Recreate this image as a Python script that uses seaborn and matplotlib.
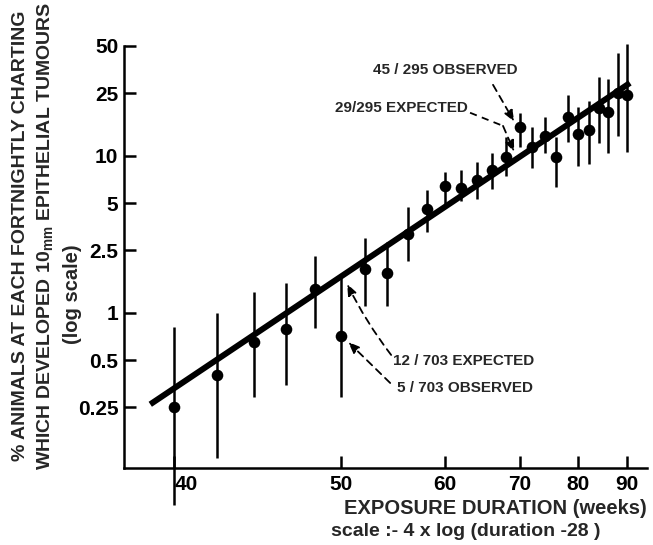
import numpy as np
import pandas as pd
import matplotlib
matplotlib.use("Agg")
import matplotlib.pyplot as plt
import seaborn as sns

# ---- data ----
weeks = [40, 42, 44, 46, 48, 50, 52, 54, 56, 58, 60, 62, 64,
         66, 68, 70, 72, 74, 76, 78, 80, 82, 84, 86, 88, 90]
pct = [0.25, 0.40, 0.65, 0.79, 1.42, 0.71, 1.91, 1.80, 3.19, 4.6, 6.44, 6.25, 7.03,
       8.15, 9.86, 15.25, 11.4, 13.4, 9.86, 17.7, 13.8, 14.6, 20.2, 19.1, 25.0, 24.5]
lower = [0.06, 0.119, 0.29, 0.35, 0.80, 0.29, 1.11, 1.11, 2.14, 3.28, 4.87, 5.17, 5.32,
         6.17, 7.46, 11.4, 8.4, 10.4, 6.35, 12.3, 8.6, 8.9, 12.1, 10.4, 13.4, 10.6]
upper = [0.81, 1.0, 1.36, 1.55, 2.3, 1.70, 3.0, 2.83, 4.73, 6.07, 7.9, 8.15, 9.16,
         10.4, 13.2, 18.8, 15.3, 17.7, 13.2, 24.5, 20.5, 22.4, 31.9, 30.9, 45.3, 51.7]
line_weeks = [39.0, 90.7]
line_pct = [0.262, 29.1]
x_ticks = [40, 50, 60, 70, 80, 90]
x_tick_labels = ["40", "50", "60", "70", "80", "90"]
y_ticks = [0.25, 0.5, 1, 2.5, 5, 10, 25, 50]
y_tick_labels = ["0.25", "0.5", "1", "2.5", "5", "10", "25", "50"]

df = pd.DataFrame({"weeks": weeks, "pct": pct, "lower": lower, "upper": upper})
line_df = pd.DataFrame({"weeks": line_weeks, "pct": line_pct})

sns.set_theme(style="ticks")
plt.rcParams["font.family"] = ["Liberation Sans", "DejaVu Sans"]
plt.rcParams["font.weight"] = "bold"
plt.rcParams["mathtext.default"] = "regular"

fig = plt.figure(figsize=(6.53, 5.45), dpi=100)
ax = fig.add_axes([0.1899, 0.1413, 0.8009, 0.7743])

# error bars
ax.vlines(df["weeks"], df["lower"], df["upper"], colors="black", lw=1.8,
          clip_on=False, zorder=2)
# fitted (expected) line
sns.lineplot(data=line_df, x="weeks", y="pct", color="black", lw=4.3,
             estimator=None, sort=False, ax=ax, zorder=3,
             solid_capstyle="butt")
# observed points
sns.scatterplot(data=df, x="weeks", y="pct", color="black", s=70,
                linewidth=0, ax=ax, zorder=4, clip_on=False)


def fwd(d):
    d = np.asarray(d, dtype=float)
    return np.log10(np.clip(d - 28.0, 1e-3, None))


def inv(u):
    return 28.0 + 10 ** np.asarray(u, dtype=float)


ax.set_xscale("function", functions=(fwd, inv))
ax.set_yscale("log")
ax.set_xlim(38.0, 94.7)
ax.set_ylim(0.103, 50)
ax.set_xticks(x_ticks, labels=x_tick_labels)
ax.set_yticks(y_ticks, labels=y_tick_labels)
ax.xaxis.set_minor_locator(matplotlib.ticker.NullLocator())
ax.yaxis.set_minor_locator(matplotlib.ticker.NullLocator())
ax.set_xlabel("")
ax.set_ylabel("")

for side in ["top", "right"]:
    ax.spines[side].set_visible(False)
for side in ["left", "bottom"]:
    ax.spines[side].set_linewidth(1.8)
    ax.spines[side].set_color("black")

ax.tick_params(axis="both", direction="in", length=8.5, width=1.8,
               colors="black", labelsize=15)
ax.tick_params(axis="y", pad=4)
ax.tick_params(axis="x", pad=5)
for lab in ax.get_xticklabels() + ax.get_yticklabels():
    lab.set_fontweight("bold")

# annotations
ann_fs = 11
dash = (0, (4, 3))
ax.text(52.7, 35.3, "45 / 295 OBSERVED", ha="left", va="center",
        fontsize=ann_fs, fontweight="bold")
ax.annotate("", xy=(69.2, 16.5), xytext=(66.15, 28.3),
            arrowprops=dict(arrowstyle="-|>,head_length=0.55,head_width=0.22",
                            linestyle=dash, lw=1.3, color="black",
                            shrinkA=0, shrinkB=0))

ax.text(49.5, 20.2, "29/295 EXPECTED", ha="left", va="center",
        fontsize=ann_fs, fontweight="bold")
ax.plot([63.1, 67.56], [18.8, 15.5], color="black", lw=1.3, linestyle=dash)
ax.annotate("", xy=(69.2, 10.6), xytext=(67.56, 15.5),
            arrowprops=dict(arrowstyle="-|>,head_length=0.55,head_width=0.22",
                            linestyle=dash, lw=1.3, color="black",
                            shrinkA=0, shrinkB=0))

ax.text(54.5, 0.494, "12 / 703 EXPECTED", ha="left", va="center",
        fontsize=ann_fs, fontweight="bold")
ax.annotate("", xy=(50.47, 1.53), xytext=(54.36, 0.54),
            arrowprops=dict(arrowstyle="-|>,head_length=0.55,head_width=0.22",
                            linestyle=dash, lw=1.3, color="black",
                            shrinkA=0, shrinkB=0,
                            connectionstyle="arc3,rad=-0.05"))

ax.text(54.9, 0.333, "5 / 703 OBSERVED", ha="left", va="center",
        fontsize=ann_fs, fontweight="bold")
ax.annotate("", xy=(50.56, 0.653), xytext=(54.27, 0.358),
            arrowprops=dict(arrowstyle="-|>,head_length=0.55,head_width=0.22",
                            linestyle=dash, lw=1.3, color="black",
                            shrinkA=0, shrinkB=0))

# axis titles
fig.text(21 / 653, 0.567, "% ANIMALS AT EACH FORTNIGHTLY CHARTING",
         rotation=90, ha="center", va="center", fontsize=14, fontweight="bold")
fig.text(45 / 653, 0.567,
         "WHICH DEVELOPED 10$_{\\mathregular{mm}}$ EPITHELIAL TUMOURS",
         rotation=90, ha="center", va="center", fontsize=14, fontweight="bold")
fig.text(73 / 653, 0.46, "(log scale)", rotation=90, ha="center",
         va="center", fontsize=14.5, fontweight="bold")
fig.text(647 / 653, 1 - 508 / 545, "EXPOSURE DURATION (weeks)", ha="right",
         va="center", fontsize=14.5, fontweight="bold")
fig.text(331 / 653, 1 - 531 / 545, "scale :- 4 x log (duration -28 )", ha="left",
         va="center", fontsize=14, fontweight="bold")

# the "40" label sits to the right of its tick in the reference
xl = ax.get_xticklabels()
xl[0].set_horizontalalignment("left")

fig.savefig("out.png", dpi=100, facecolor="white")
